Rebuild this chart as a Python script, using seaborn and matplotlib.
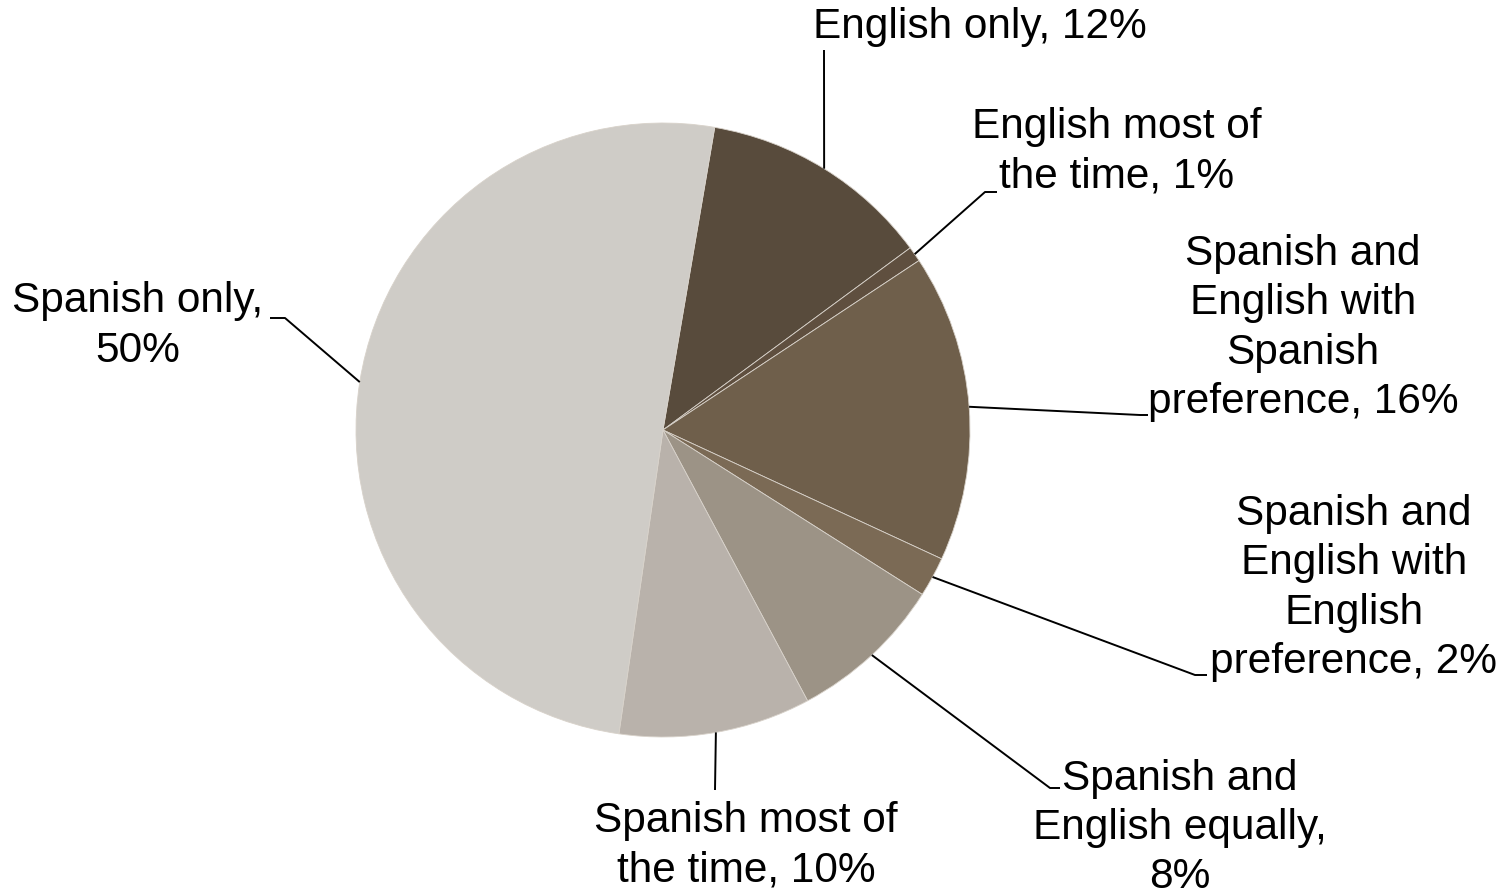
import numpy as np
import matplotlib
matplotlib.use("Agg")
import matplotlib.pyplot as plt
import seaborn as sns

# slices, clockwise from the top
labels = ["English only", "English most of\nthe time", "Spanish and\nEnglish with\nSpanish\npreference",
          "Spanish and\nEnglish with\nEnglish\npreference", "Spanish and\nEnglish equally,\n",
          "Spanish most of\nthe time", "Spanish only,\n"]
shown_pct = [12, 1, 16, 2, 8, 10, 50]
shares = [12.2, 0.8, 16.2, 2.1, 8.2, 10.1, 50.4]
colors = ["#584B3C", "#5F4F3F", "#6F5F4B", "#7B6A55", "#9C9386", "#B9B2AB", "#CFCCC7"]

sns.set_theme(style="white")
plt.rcParams["font.family"] = ["Liberation Sans", "DejaVu Sans"]

W, H = 1505, 893
cx, cy, R = 663, 430, 307

fig = plt.figure(figsize=(W / 100, H / 100), dpi=100)
ax = fig.add_axes([0, 0, 1, 1])

wedges, _ = ax.pie(shares, colors=colors, startangle=80.3, counterclock=False,
                   wedgeprops=dict(edgecolor="#d8d2ca", linewidth=0.6))
ax.set_xlim(-cx / R, (W - cx) / R)
ax.set_ylim(-(H - cy) / R, cy / R)
ax.set_aspect("equal")
ax.axis("off")

def px(x, y):
    return (x - cx) / R, (cy - y) / R

# label text centre (px), elbow point (px), end of short horizontal tick (px or None)
text_pos = [(980, 27), (1117, 152), (1303, 328), (1354, 588), (1180, 828), (746, 846), (138, 326)]
elbow = [(824, 50), (985, 192), (1140, 415), (1195, 675), (1050, 788), (715, 790), (285, 318)]
tick_end = [None, (997, 192), (1148, 415), (1207, 675), (1060, 788), None, (270, 318)]

texts = []
for lab, p in zip(labels, shown_pct):
    if lab.endswith(",\n"):
        texts.append(lab + f"{p}%")
    else:
        texts.append(f"{lab}, {p}%")

for w, t, tp, el, te in zip(wedges, texts, text_pos, elbow, tick_end):
    ang = np.deg2rad((w.theta1 + w.theta2) / 2)
    x0, y0 = np.cos(ang), np.sin(ang)
    ex, ey = px(*el)
    xs, ys = [x0, ex], [y0, ey]
    if te is not None:
        tx, ty = px(*te)
        xs.append(tx)
        ys.append(ty)
    ax.plot(xs, ys, color="black", lw=1.4, solid_capstyle="butt")
    ax.text(*px(*tp), t, ha="center", va="center", fontsize=30.5,
            linespacing=1.3, color="black")

fig.savefig("out.png", dpi=100)
